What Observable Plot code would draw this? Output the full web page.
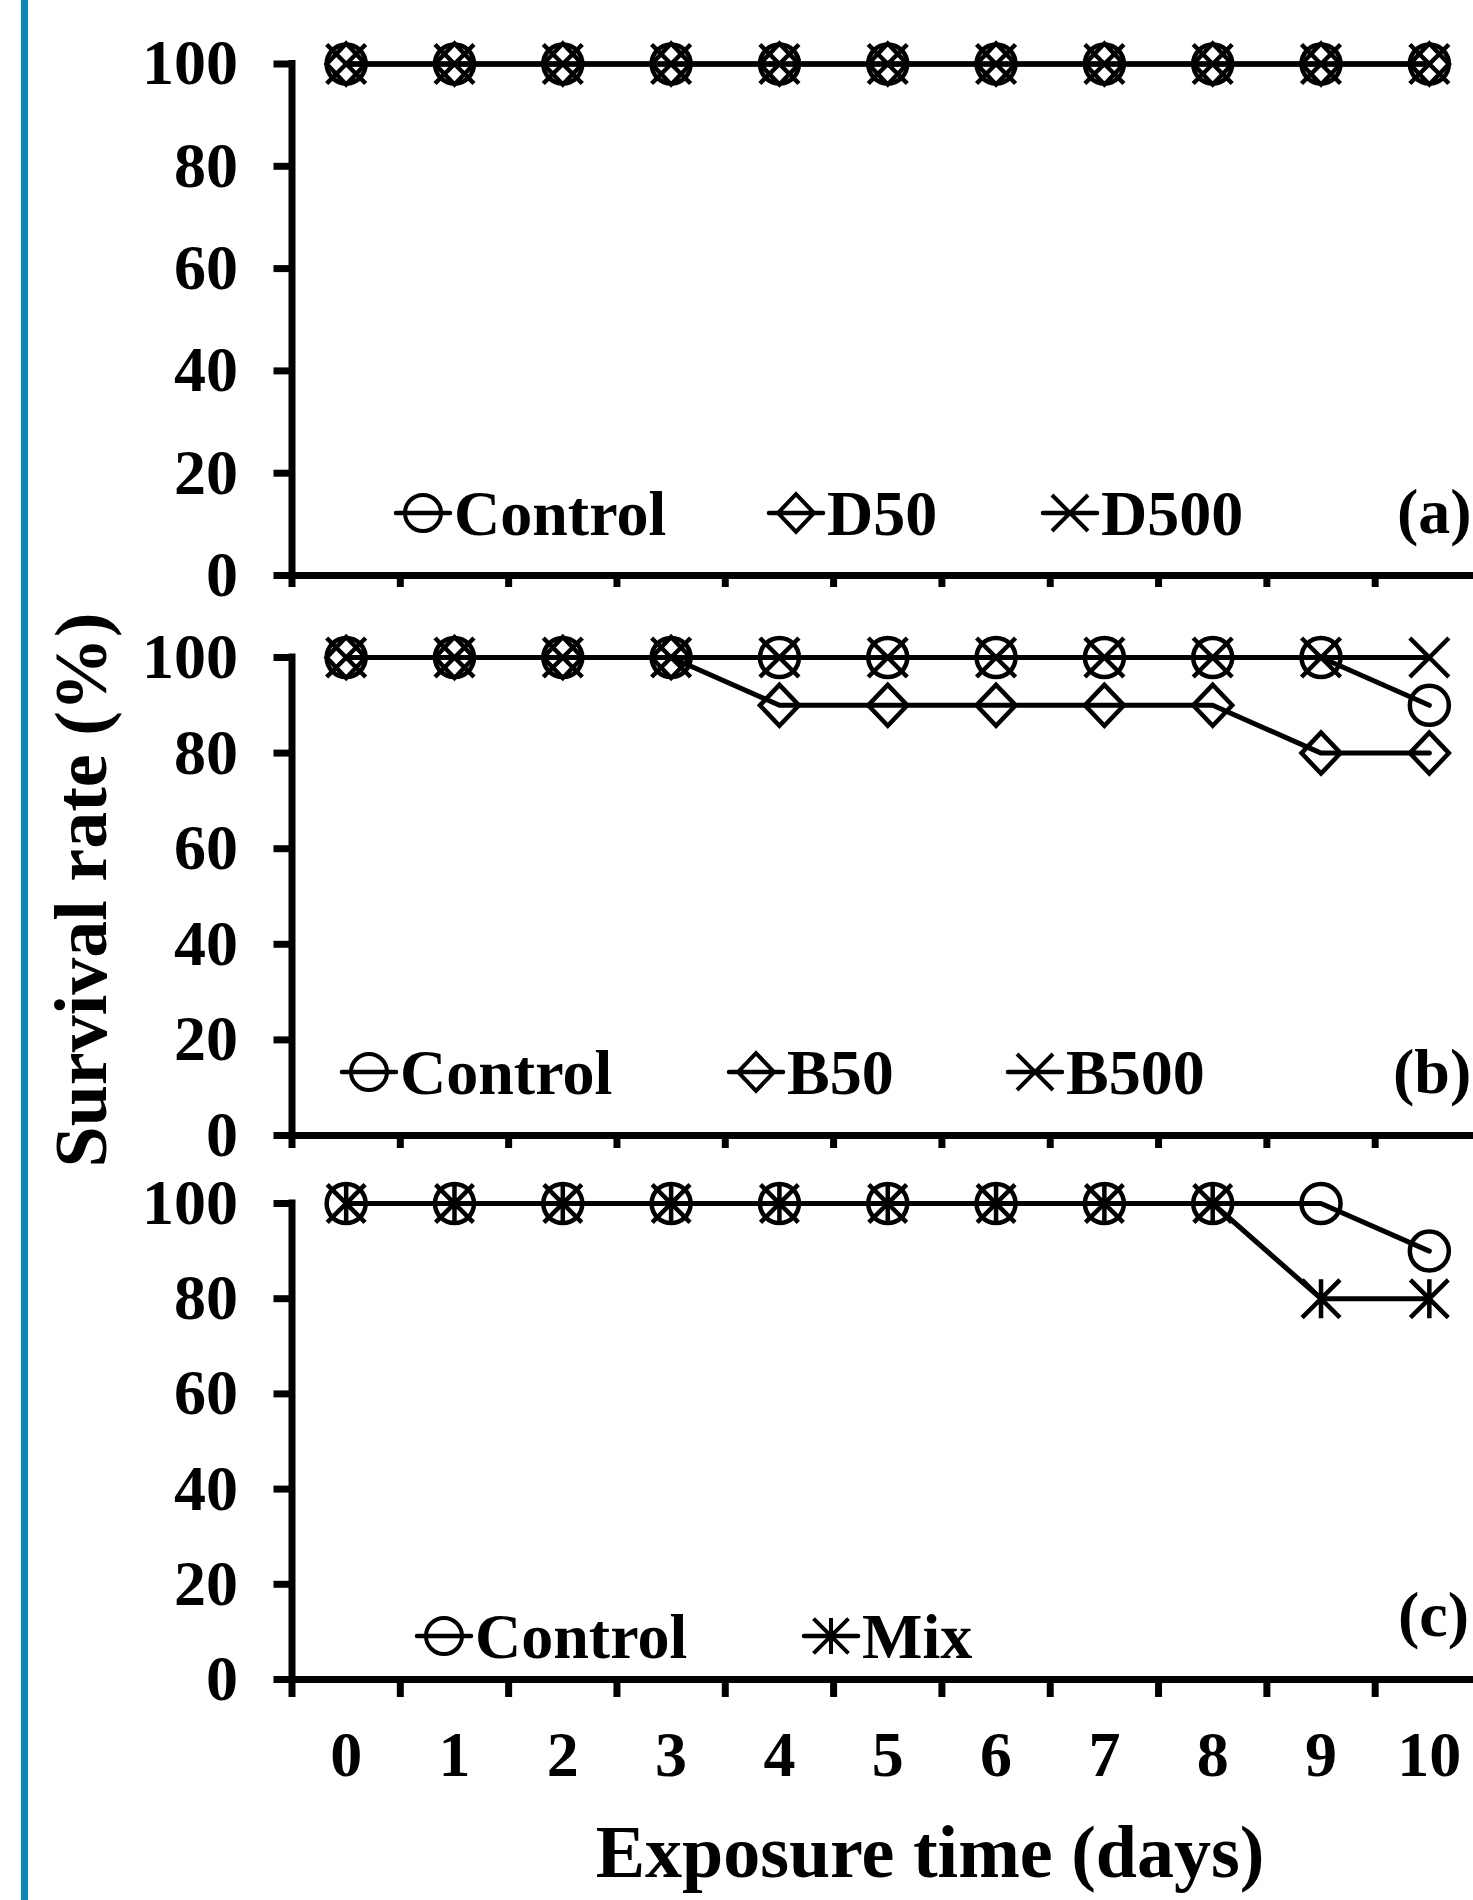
<!DOCTYPE html>
<html>
<head>
<meta charset="utf-8">
<script src="https://cdn.jsdelivr.net/npm/d3@7"></script>
<script src="https://cdn.jsdelivr.net/npm/@observablehq/plot@0.6"></script>
<style>
  html, body { margin: 0; padding: 0; background: #fff; }
  #root { position: relative; width: 1473px; height: 1900px; overflow: hidden; background: #fff; }
  .panel { position: absolute; left: 0; }
  #overlay { position: absolute; left: 0; top: 0; pointer-events: none; }
</style>
</head>
<body>
<div id="root"></div>
<script>
// ---------------- data ----------------
const days = [0, 1, 2, 3, 4, 5, 6, 7, 8, 9, 10];
const yTicks = [0, 20, 40, 60, 80, 100];

// panel (a)
const aControl = [100, 100, 100, 100, 100, 100, 100, 100, 100, 100, 100];
const aD50     = [100, 100, 100, 100, 100, 100, 100, 100, 100, 100, 100];
const aD500    = [100, 100, 100, 100, 100, 100, 100, 100, 100, 100, 100];
// panel (b)
const bControl = [100, 100, 100, 100, 100, 100, 100, 100, 100, 100, 90];
const bB50     = [100, 100, 100, 100, 90, 90, 90, 90, 90, 80, 80];
const bB500    = [100, 100, 100, 100, 100, 100, 100, 100, 100, 100, 100];
// panel (c)
const cControl = [100, 100, 100, 100, 100, 100, 100, 100, 100, 100, 90];
const cMix     = [100, 100, 100, 100, 100, 100, 100, 100, 100, 80, 80];

const panelNames = ["(a)", "(b)", "(c)"];
const yTitle = "Survival rate (%)";
const xTitle = "Exposure time (days)";

// ---------------- symbols ----------------
const symCircle = { draw(ctx, size) { const r = Math.sqrt(size / Math.PI); ctx.moveTo(r, 0); ctx.arc(0, 0, r, 0, 2 * Math.PI); } };
const symDiamond = { draw(ctx, size) { const r = Math.sqrt(size / Math.PI); ctx.moveTo(0, -r * 1.05); ctx.lineTo(r, 0); ctx.lineTo(0, r * 1.05); ctx.lineTo(-r, 0); ctx.closePath(); } };
const symTimes = { draw(ctx, size) { const r = Math.sqrt(size / Math.PI); ctx.moveTo(-r, -r); ctx.lineTo(r, r); ctx.moveTo(-r, r); ctx.lineTo(r, -r); } };
const symStar = { draw(ctx, size) { const r = Math.sqrt(size / Math.PI); const k = r * 0.97; ctx.moveTo(-k, -k); ctx.lineTo(k, k); ctx.moveTo(-k, k); ctx.lineTo(k, -k); ctx.moveTo(0, -r); ctx.lineTo(0, r); } };

const panels = [
  { series: [ {name: "Control", values: aControl, sym: symCircle}, {name: "D50", values: aD50, sym: symDiamond}, {name: "D500", values: aD500, sym: symTimes} ] },
  { series: [ {name: "Control", values: bControl, sym: symCircle}, {name: "B50", values: bB50, sym: symDiamond}, {name: "B500", values: bB500, sym: symTimes} ] },
  { series: [ {name: "Control", values: cControl, sym: symCircle}, {name: "Mix", values: cMix, sym: symStar} ] }
];

// ---------------- layout (positions / sizes only) ----------------
const FONT = "'Liberation Serif', 'Times New Roman', serif";
const layout = [
  { top: 0,    height: 640, mt: 63.5, mb: 65,  xTick: 12, labels: false, legendX: [454, 827, 1101], legendBase: 535, tagX: 1397, tagBase: 533 },
  { top: 600,  height: 600, mt: 57,   mb: 65,  xTick: 13, labels: false, legendX: [400, 787, 1066], legendBase: 1094, tagX: 1393, tagBase: 1093 },
  { top: 1160, height: 740, mt: 43,   mb: 221, xTick: 18, labels: true,  legendX: [475, 862],       legendBase: 1658, tagX: 1398, tagBase: 1636 }
];

const root = document.getElementById("root");
const boundaries = days.map(d => d - 0.5).concat([days[days.length - 1] + 0.5]);

panels.forEach((p, pi) => {
  const L = layout[pi];
  const marks = [
    Plot.ruleY([0], {strokeWidth: 7, strokeLinecap: "square"}),
    Plot.ruleX([boundaries[0]], {strokeWidth: 7, strokeLinecap: "square"}),
    Plot.axisY({ticks: yTicks, tickSize: 18, tickPadding: 36, strokeWidth: 7, label: null, fontSize: 64, fontWeight: "bold", fontFamily: FONT}),
    Plot.axisX({ticks: boundaries, tickSize: L.xTick, strokeWidth: 7, tickFormat: () => "", label: null})
  ];
  if (L.labels) {
    marks.push(Plot.axisX({ticks: days, tickSize: 0, tickPadding: 51, label: null, fontSize: 64, fontWeight: "bold", fontFamily: FONT}));
  }
  p.series.forEach(s => {
    const rows = days.map((d, i) => ({day: d, value: s.values[i]}));
    marks.push(Plot.line(rows, {x: "day", y: "value", stroke: "black", strokeWidth: 5, strokeLinejoin: "round", strokeLinecap: "round"}));
  });
  p.series.forEach(s => {
    const rows = days.map((d, i) => ({day: d, value: s.values[i]}));
    marks.push(Plot.dot(rows, {x: "day", y: "value", symbol: s.sym, r: 19.5, stroke: "black", strokeWidth: 4.5, fill: "none"}));
  });
  const chart = Plot.plot({
    width: 1483,
    height: L.height,
    marginLeft: 291.5,
    marginRight: 0,
    marginTop: L.mt,
    marginBottom: L.mb,
    x: {domain: [boundaries[0], boundaries[boundaries.length - 1]], label: null},
    y: {domain: [0, 100], label: null},
    style: {fontFamily: FONT, fontWeight: "bold", fontSize: "64px", maxWidth: "none", background: "transparent", color: "black"},
    marks
  });
  chart.classList.add("panel");
  chart.style.top = L.top + "px";
  chart.style.left = "0px";
  chart.style.position = "absolute";
  root.appendChild(chart);
});

// ---------------- overlay: titles, legends, panel tags ----------------
const ov = d3.select(root).append("svg").attr("id", "overlay").attr("width", 1473).attr("height", 1900)
  .style("font-family", FONT).style("font-weight", "bold");

ov.append("rect").attr("x", 21).attr("y", 0).attr("width", 7).attr("height", 1900).attr("fill", "#0b86b8");

ov.append("text").attr("transform", "translate(106,890) rotate(-90)").attr("text-anchor", "middle")
  .attr("font-size", 74).text(yTitle);
ov.append("text").attr("x", 930).attr("y", 1877).attr("text-anchor", "middle").attr("font-size", 74).text(xTitle);

panels.forEach((p, pi) => {
  const L = layout[pi];
  ov.append("text").attr("x", L.tagX).attr("y", L.tagBase).attr("font-size", 64).text(panelNames[pi]);
  p.series.forEach((s, si) => {
    const tx = L.legendX[si];
    const cy = L.legendBase - 22;
    const g = ov.append("g");
    g.append("line").attr("x1", tx - 58).attr("x2", tx - 4).attr("y1", cy).attr("y2", cy)
      .attr("stroke", "black").attr("stroke-width", 4.5).attr("stroke-linecap", "round");
    g.append("path").attr("transform", `translate(${tx - 31},${cy})`)
      .attr("d", d3.symbol(s.sym, Math.PI * 18 * 18)())
      .attr("fill", "none").attr("stroke", "black").attr("stroke-width", 4);
    g.append("text").attr("x", tx).attr("y", L.legendBase).attr("font-size", 64).text(s.name);
  });
});
</script>
</body>
</html>
